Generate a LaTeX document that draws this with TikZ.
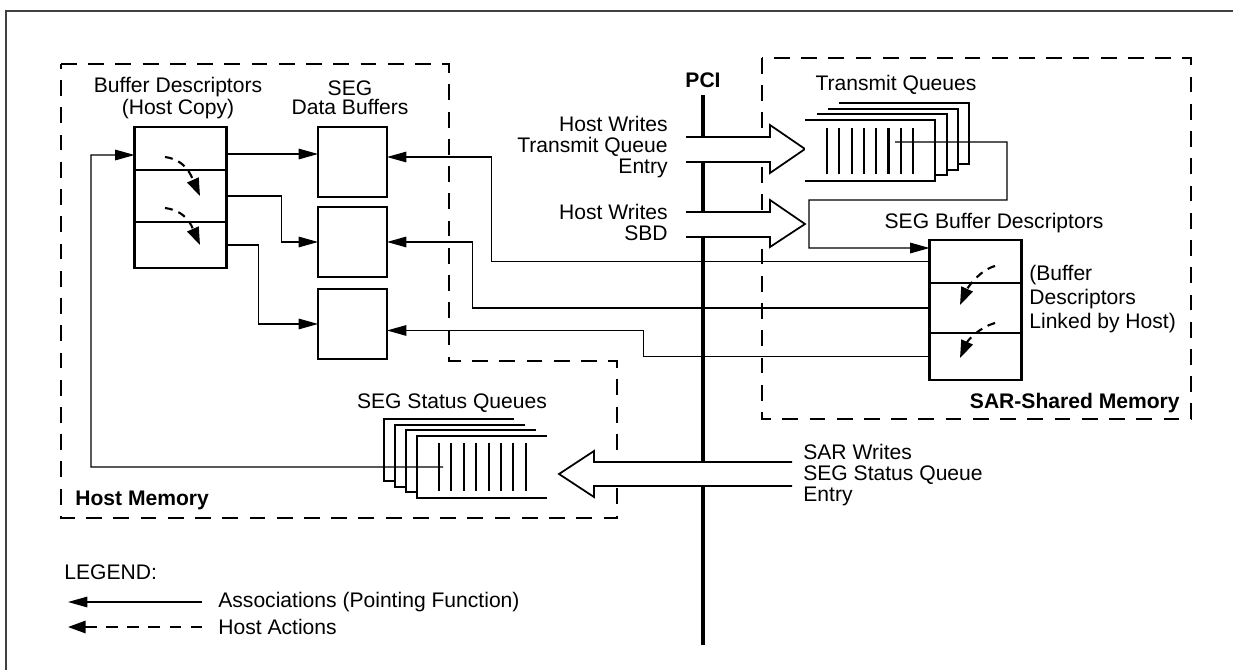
\documentclass[tikz,border=0pt]{standalone}
\usepackage{fontspec}
\setmainfont{Liberation Sans}
\usetikzlibrary{arrows.meta,positioning,calc}
\tikzstyle{txt} = [inner sep=0pt, font=\fontsize{12}{12}\selectfont]
\tikzstyle{boldtxt} = [inner sep=0pt, font=\fontsize{12}{12}\selectfont\bfseries]
\tikzstyle{memory} = [draw, line width=1pt, dash pattern=on 9pt off 6.5pt]
\tikzstyle{bufbox} = [draw, line width=1.3pt, inner sep=0pt, outer sep=0pt, minimum width=1.38cm, minimum height=1.4cm]
\tikzstyle{slot} = [draw, line width=0.6pt, inner sep=0pt, outer sep=0pt, minimum width=1.84cm]
\tikzstyle{assoc} = [draw, line width=0.65pt, -{Triangle[length=11pt,width=6pt]}]
\tikzstyle{hostact} = [draw, line width=1.2pt, dash pattern=on 4.5pt off 3.5pt, -{Triangle[length=10pt,width=7pt]}]
\tikzstyle{bus} = [draw, line width=2.8pt]
\tikzstyle{fatarrow} = [draw, fill=white, line width=1pt]
\tikzstyle{qlayer} = [draw, fill=white, line width=1.2pt]
\tikzstyle{qbar} = [draw, line width=1.2pt]

\begin{document}
\begin{tikzpicture}[x=0.02cm, y=-0.02cm]
    \useasboundingbox (0,0) rectangle (1233,670);
    % frame of the figure
    \draw[line width=0.6pt, black!75] (6,670) -- (6,11) -- (1233,11);

    % the two memories
    \draw[memory] (61,64) -- (449,64) -- (449,361) -- (617,361) -- (617,518) -- (61,518) -- cycle;
    \draw[memory] (762,58) rectangle (1191,419);
    \node[boldtxt, anchor=west] (hostmem) at (75,500) {Host Memory};
    \node[boldtxt, anchor=east] (sarmem) at (1180,403) {SAR-Shared Memory};

    % the PCI bus and the host writes
    \node[boldtxt] (pci) at (703,80) {PCI};
    \coordinate (busend) at (703,645);
    \draw[bus] ([yshift=-0.15cm]pci.south) -- (busend);

    \path[fatarrow] (686,137) -- (770,137) -- (770,125) -- (805,149) -- (770,173) -- (770,162) -- (686,162);
    \path[fatarrow] (686,212) -- (770,212) -- (770,200) -- (805,224) -- (770,247) -- (770,237) -- (686,237);
    \node[txt, align=right, anchor=east] (hwtq) at (668,147) {Host Writes\\Transmit Queue\\Entry};
    \node[txt, align=right, anchor=east] (hwsbd) at (668,222) {Host Writes\\SBD};

    % buffer descriptors, host copy
    \node[txt, align=center, font=\fontsize{12}{11}\selectfont] (hbdtitle) at (178,98) {Buffer Descriptors\\(Host Copy)};
    \node[slot, minimum height=0.86cm] (hbd1) at (180.5,148.5) {};
    \node[slot, minimum height=1.04cm, below=0pt of hbd1] (hbd2) {};
    \node[slot, minimum height=0.92cm, below=0pt of hbd2] (hbd3) {};
    \draw[line width=1.3pt] (hbd1.north west) rectangle (hbd3.south east);

    % data buffers
    \node[txt, align=center, font=\fontsize{12}{11}\selectfont] (dbuftitle) at (350,98) {SEG\\Data Buffers};
    \node[bufbox] (dbuf1) at (352.5,162) {};
    \node[bufbox, below=0.2cm of dbuf1] (dbuf2) {};
    \node[bufbox, below=0.24cm of dbuf2] (dbuf3) {};

    % transmit queues
    \node[txt] (tqtitle) at (896,85) {Transmit Queues};
    \foreach \dx/\dy in {34/-17, 23/-11, 12/-6, 0/0}
        \path[qlayer] ({805+\dx},{120+\dy}) -- ({935+\dx},{120+\dy}) -- ({935+\dx},{181+\dy}) -- ({805+\dx},{181+\dy});
    \foreach \i in {0,...,7}
        \draw[qbar] ({827+12.3*\i},128) -- ++(0,46);
    \coordinate (tqhook) at (895,142);

    % SEG buffer descriptors
    \node[txt] (sbdtitle) at (994,223) {SEG Buffer Descriptors};
    \node[slot, minimum height=0.86cm] (sbd1) at (975.5,261.5) {};
    \node[slot, minimum height=1.0cm, below=0pt of sbd1] (sbd2) {};
    \node[slot, minimum height=0.94cm, below=0pt of sbd2] (sbd3) {};
    \draw[line width=1.3pt] (sbd1.north west) rectangle (sbd3.south east);
    \node[txt, align=left, anchor=west, font=\fontsize{12}{13.6}\selectfont] (linked) at (1029,299) {(Buffer\\Descriptors\\Linked by Host)};

    % status queues
    \node[txt] (ssqtitle) at (452,403) {SEG Status Queues};
    \foreach \dx/\dy in {-33/-17, -22/-11, -11/-6, 0/0}
        \path[qlayer] ({547+\dx},{436+\dy}) -- ({417+\dx},{436+\dy}) -- ({417+\dx},{498+\dy}) -- ({547+\dx},{498+\dy});
    \foreach \i in {0,...,7}
        \draw[qbar] ({439+12.4*\i},443) -- ++(0,48);
    \coordinate (ssqhook) at (443,467);

    % SAR writes
    \path[fatarrow] (792,462) -- (594,462) -- (594,451) -- (559,474) -- (594,497) -- (594,486) -- (792,486);
    \node[txt, align=left, anchor=west] (sarw) at (803,475) {SAR Writes\\SEG Status Queue\\Entry};

    % associations
    \coordinate (h1out) at ([yshift=-0.11cm]hbd1.east);
    \draw[assoc] (h1out) -- (h1out -| dbuf1.west);
    \draw[assoc] (hbd2.east) -- ++(55,0) |- (dbuf2.west);
    \draw[assoc] (hbd3.east) -- ++(32,0) |- (dbuf3.west);
    \draw[assoc] (sbd1.west) -- ++(-438,0) |- ([yshift=0.1cm]dbuf1.east);
    \draw[assoc] (sbd2.west) -- ++(-457,0) |- (dbuf2.east);
    \draw[assoc] (sbd3.west) -- ++(-286,0) |- ([yshift=-0.13cm]dbuf3.east);
    \draw[assoc] (tqhook) -| (1007,200) -| (809,248) -- ([yshift=-0.16cm]sbd1.north west);
    \draw[assoc] (ssqhook) -| (91,155) -- ([yshift=-0.13cm]hbd1.west);

    % host actions
    \draw[hostact] ([xshift=-0.31cm,yshift=-0.17cm]hbd1.center) .. controls +(22,3) and +(-8,-18) .. ([xshift=0.39cm]hbd2.center);
    \draw[hostact] ([xshift=-0.31cm,yshift=-0.24cm]hbd2.center) .. controls +(22,3) and +(-8,-18) .. ([xshift=0.39cm]hbd3.center);
    \draw[hostact] ([xshift=0.39cm,yshift=-0.09cm]sbd1.center) .. controls +(-15,4) and +(8,-18) .. ([xshift=-0.31cm,yshift=0.06cm]sbd2.center);
    \draw[hostact] ([xshift=0.39cm,yshift=-0.3cm]sbd2.center) .. controls +(-15,4) and +(8,-18) .. ([xshift=-0.31cm,yshift=-0.03cm]sbd3.center);

    % legend
    \node[txt, anchor=west] (legend) at (64,572) {LEGEND:};
    \node[txt, anchor=west] (assocleg) at (218,602) {Associations (Pointing Function)};
    \node[txt, anchor=west] (hostleg) at (218,627) {Host Actions};
    \draw[assoc] ([xshift=-0.32cm]assocleg.west) -- ++(-134,0);
    \draw[hostact, dash pattern=on 6.5pt off 5.5pt] ([xshift=-0.32cm]hostleg.west) -- ++(-134,0);
\end{tikzpicture}
\end{document}
